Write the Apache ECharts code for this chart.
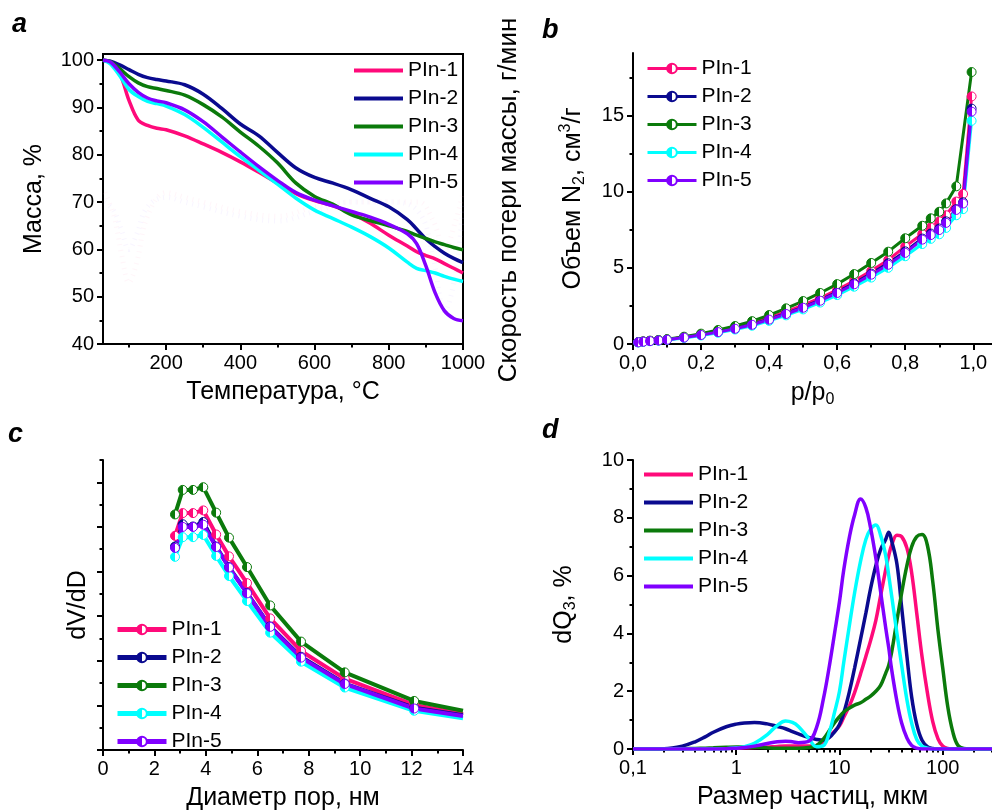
<!DOCTYPE html>
<html><head><meta charset="utf-8">
<script src="https://cdn.jsdelivr.net/npm/echarts@6/dist/echarts.min.js"></script>
<style>html,body{margin:0;padding:0;background:#fff}#c{width:992px;height:812px}</style>
</head><body><div id="c"></div><script>
const FONT = '"Liberation Sans", Arial, Helvetica, sans-serif';
const names = ['PIn-1','PIn-2','PIn-3','PIn-4','PIn-5'];
const colors = ['#FF0A7A','#0A0A8F','#0B7A0B','#00FFFF','#8000FF'];

// ---- Panel a: TGA
const tempA = [30,50,75,100,125,150,175,200,250,300,350,400,450,500,550,600,650,700,750,800,850,875,900,925,950,975,1000];
const massPIn1 = [100,99.4,97.2,91.5,87.3,86.2,85.6,85.3,84.0,82.3,80.5,78.5,76.3,74.0,71.8,70.3,69.2,67.6,65.5,63.0,60.7,59.5,58.7,58.0,57.0,56.0,55.0];
const massPIn2 = [100,99.8,99.0,98.0,97.0,96.3,95.9,95.6,94.8,92.8,89.8,86.5,84.0,80.5,77.2,75.2,74.0,72.6,70.8,69.0,66.3,64.3,62.2,60.6,59.2,58.1,57.2];
const massPIn3 = [100,99.7,98.2,96.5,95.2,94.4,94.0,93.6,92.6,90.6,88.0,84.8,81.8,78.3,74.0,71.2,69.5,67.3,66.1,65.0,63.8,63.0,62.3,61.6,61.0,60.4,59.9];
const massPIn4 = [100,99.2,96.7,93.8,92.3,91.3,90.8,90.3,88.5,85.8,82.7,79.6,76.7,73.8,70.8,68.3,66.5,64.7,62.7,60.3,57.3,56.0,55.5,55.0,54.3,53.7,53.2];
const massPIn5 = [100,99.6,97.5,95.0,93.2,92.0,91.4,91.0,89.5,87.0,83.8,80.6,77.5,74.6,72.0,70.4,69.2,68.0,66.8,65.3,63.3,61.2,56.5,50.8,47.0,45.4,44.9];
// faint DTG traces (right axis, barely visible in the original), read in mass-axis units
const tempDTG = [35,60,80,100,120,150,200,250,300,400,500,600,700,800,880,920,950,980,1000];
const dtgFaint1 = [72,67,59,53,57,67,72,71,70,68,67,69,70,70,70,66,60,66,72];
const dtgFaint2 = [70,68,64,60,63,69,71,70,69,67,66,68,70,70,68,58,47,55,70];

// ---- Panel b: N2 isotherms
const pB = [0.015,0.03,0.05,0.075,0.1,0.15,0.2,0.25,0.3,0.35,0.4,0.45,0.5,0.55,0.6,0.65,0.7,0.75,0.8,0.85,0.875,0.9,0.92,0.95,0.97,0.995];
const volPIn1 = [0.12,0.16,0.21,0.25,0.30,0.45,0.63,0.85,1.08,1.37,1.73,2.12,2.55,3.02,3.55,4.15,4.80,5.52,6.40,7.22,7.65,8.05,8.45,9.35,9.85,16.25];
const volPIn2 = [0.12,0.16,0.20,0.24,0.29,0.43,0.60,0.80,1.02,1.29,1.63,2.00,2.42,2.88,3.40,3.98,4.62,5.30,6.08,6.92,7.25,7.58,8.05,8.85,9.30,15.45];
const volPIn3 = [0.12,0.17,0.22,0.26,0.32,0.48,0.68,0.92,1.18,1.50,1.90,2.34,2.82,3.35,3.93,4.59,5.32,6.06,6.94,7.76,8.25,8.68,9.23,10.35,null,17.85];
const volPIn4 = [0.10,0.14,0.18,0.22,0.27,0.40,0.56,0.74,0.95,1.20,1.52,1.88,2.27,2.72,3.21,3.76,4.36,5.00,5.76,6.56,6.90,7.20,7.62,8.45,8.85,14.65];
const volPIn5 = [0.11,0.15,0.19,0.23,0.28,0.42,0.59,0.78,1.00,1.26,1.60,1.97,2.38,2.84,3.35,3.92,4.55,5.20,5.98,6.85,7.15,7.48,7.95,8.80,9.22,15.25];

// ---- Panel c: pore size distribution
const diamC = [2.8,3.1,3.5,3.9,4.4,4.9,5.6,6.5,7.7,9.4,12.1,14];
const dvPIn1 = [4.80,5.31,5.31,5.37,4.83,4.34,3.74,2.95,2.22,1.60,1.01,0.81];
const dvPIn2 = [4.56,5.06,5.01,5.11,4.56,4.10,3.52,2.77,2.09,1.49,0.95,0.78];
const dvPIn3 = [5.28,5.83,5.83,5.89,5.32,4.76,4.10,3.24,2.43,1.74,1.10,0.88];
const dvPIn4 = [4.33,4.77,4.77,4.82,4.35,3.90,3.34,2.63,1.98,1.40,0.88,0.71];
const dvPIn5 = [4.53,5.00,5.00,5.05,4.55,4.09,3.51,2.76,2.07,1.48,0.93,0.76];

// ---- Panel d: particle size distribution
const sizesD = [0.1,0.2,0.3,0.4,0.5,0.6,0.8,1,1.2,1.5,2,2.5,3,3.5,4,5,6,7,8,9,10,11,12.5,14,16,18,20,22.5,25,28,30,32,36,40,45,50,56,63,71,80,90,100,112,125,140,160,200,300];
const dqPIn1 = [0,0,0,0,0.01,0.01,0.02, 0.03,0.04,0.05,0.07,0.09,0.1,0.1,0.1, 0.1,0.12,0.25,0.45,0.62, 0.8,1.1,1.5,1.95,2.6,3.2,3.75,4.45,5.3,6.2, 6.7,7.05,7.4,7.35,6.95,6.1,4.7,3.2,1.95,0.95, 0.35,0.1,0.02,0,0,0,0,0];
const dqPIn2 = [0,0.01,0.1,0.25,0.42,0.58,0.77, 0.86,0.9,0.92,0.87,0.78,0.7,0.6,0.52, 0.4,0.33,0.3,0.4,0.6, 0.85,1.25,2.0,2.8,3.8,4.7,5.55,6.35,6.9,7.25, 7.5,7.2,6.4,4.9,3.2,1.8,0.85,0.3,0.08,0.02, 0,0,0,0,0,0,0,0];
const dqPIn3 = [0,0,0.01,0.02,0.03,0.04,0.06, 0.07,0.07,0.06,0.04,0.03,0.03,0.03,0.03, 0.05,0.12,0.35,0.65,0.92, 1.12,1.28,1.42,1.52,1.6,1.72,1.83,2.0,2.2,2.62, 2.9,3.35,4.45,5.4,6.35,7.0,7.35,7.42,7.05,5.8, 4.1,2.8,1.45,0.6,0.13,0.02,0,0];
const dqPIn4 = [0,0,0,0,0,0,0.01, 0.04,0.08,0.2,0.5,0.82,0.97,0.92,0.78, 0.38,0.08,0.12,0.6,1.3, 2.0,3.0,4.3,5.4,6.5,7.25,7.6,7.75,7.4,6.7, 6.0,5.3,4.0,2.9,1.7,0.9,0.33,0.1,0.03,0, 0,0,0,0,0,0,0,0];
const dqPIn5 = [0,0,0,0,0,0,0.01, 0.03,0.05,0.1,0.19,0.25,0.27,0.25,0.22, 0.26,0.75,1.75,2.9,4.05, 5.1,6.2,7.35,8.1,8.65,8.35,7.65,6.6,5.45,4.2, 3.5,2.75,1.65,0.9,0.38,0.12,0.03,0,0,0, 0,0,0,0,0,0,0,0];

// ---- tick values
const ticksAx = [200,400,600,800,1000], minorAx = [100,300,500,700,900];
const ticksAy = [40,50,60,70,80,90,100], minorAy = [45,55,65,75,85,95];
const ticksBx = [0,0.2,0.4,0.6,0.8,1.0], minorBx = [0.1,0.3,0.5,0.7,0.9];
const ticksBy = [0,5,10,15], minorBy = [2.5,7.5,12.5,17.5];
const ticksCx = [0,2,4,6,8,10,12,14], minorCx = [1,3,5,7,9,11,13];
const ticksCy = [0,1,2,3,4,5,6], minorCy = [0.5,1.5,2.5,3.5,4.5,5.5,6.5];
const ticksDx = [0.1,1,10,100], minorDx = [0.2,0.3,0.4,0.5,0.6,0.7,0.8,0.9,2,3,4,5,6,7,8,9,20,30,40,50,60,70,80,90,200,300];
const ticksDy = [0,2,4,6,8,10], minorDy = [1,3,5,7,9];

const massA = [massPIn1,massPIn2,massPIn3,massPIn4,massPIn5];
const volB = [volPIn1,volPIn2,volPIn3,volPIn4,volPIn5];
const dvC = [dvPIn1,dvPIn2,dvPIn3,dvPIn4,dvPIn5];
const dqD = [dqPIn1,dqPIn2,dqPIn3,dqPIn4,dqPIn5];

function halfFill(c){
  return new echarts.graphic.LinearGradient(0,0,1,0,[
    {offset:0,color:c},{offset:0.5,color:c},{offset:0.5,color:'#ffffff'},{offset:1,color:'#ffffff'}]);
}
function axisPair(dim, grid, o){
  const base = {gridIndex:grid, type:o.type||'value', min:o.min, max:o.max, splitLine:{show:false},
    position: dim==='x'?'bottom':'left'};
  const major = Object.assign({}, base, {
    axisLine:{show:true,onZero:false,lineStyle:{color:'#000',width:2}},
    axisTick:{show:true,inside:false,length:6,lineStyle:{color:'#000',width:2},customValues:o.major},
    axisLabel:{show:o.showLabels!==false, customValues:o.major, formatter:o.fmt||(v=>String(v)), fontSize:20, color:'#000', fontFamily:FONT, margin:9},
    name:o.name, nameLocation:'middle', nameGap:o.nameGap,
    nameTextStyle:{fontSize:25,color:'#000',fontFamily:FONT, rich:o.rich}
  });
  const minor = Object.assign({}, base, {
    axisLine:{show:false,onZero:false},
    axisTick:{show:true,inside:false,length:3.5,lineStyle:{color:'#000',width:2},customValues:o.minor},
    axisLabel:{show:false}
  });
  return [major, minor];
}
const comma = v => String(v).replace('.', ',');
const subRich = {
  t:{fontSize:25,color:'#000',fontFamily:FONT,lineHeight:30,verticalAlign:'middle'},
  s:{fontSize:16,color:'#000',fontFamily:FONT,verticalAlign:'bottom',lineHeight:18},
  p:{fontSize:16,color:'#000',fontFamily:FONT,verticalAlign:'top',lineHeight:18}
};

const xAxis = [].concat(
  axisPair('x',0,{min:30,max:1000,major:ticksAx,minor:minorAx,name:'Температура, °C',nameGap:36}),
  axisPair('x',1,{min:0,max:1.055,major:ticksBx,minor:minorBx,fmt:v=>v.toFixed(1).replace('.',','),
     name:'{t|p/p}{s|0}',nameGap:34,rich:subRich}),
  axisPair('x',2,{min:0,max:14,major:ticksCx,minor:minorCx,name:'Диаметр пор, нм',nameGap:36}),
  axisPair('x',3,{type:'log',min:0.1,max:300,major:ticksDx,minor:minorDx,fmt:v=>comma(v),
     name:'Размер частиц, мкм',nameGap:36})
);
const yAxis = [].concat(
  axisPair('y',0,{min:40,max:101.3,major:ticksAy,minor:minorAy,name:'Масса, %',nameGap:56}),
  axisPair('y',1,{min:0,max:19.1,major:ticksBy,minor:minorBy,
     name:'{t|Объем N}{s|2}{t|, см}{p|3}{t|/г}',nameGap:45,rich:subRich}),
  axisPair('y',2,{min:0,max:6.5,major:ticksCy,minor:minorCy,showLabels:false,name:'dV/dD',nameGap:12}),
  axisPair('y',3,{min:0,max:10,major:ticksDy,minor:minorDy,name:'{t|dQ}{s|3}{t|, %}',nameGap:54,rich:subRich})
);

const series = [];
[[dtgFaint1,'#ffb0d0'],[dtgFaint2,'#c8b0ff']].forEach((g,i)=>{
  series.push({name:'ДТГ-'+(i+1),type:'line',xAxisIndex:0,yAxisIndex:0,smooth:0.4,showSymbol:false,symbol:'none',silent:true,
    data:tempDTG.map((t,k)=>[t,g[0][k]]),lineStyle:{color:g[1],width:5,type:[1,5],opacity:0.12},z:1});
});
names.forEach((n,i)=>{
  series.push({name:'a|'+n,type:'line',xAxisIndex:0,yAxisIndex:0,smooth:0.35,showSymbol:false,symbol:'none',
    data:tempA.map((t,k)=>[t,massA[i][k]]),lineStyle:{color:colors[i],width:3.5},itemStyle:{color:colors[i]}});
});
names.forEach((n,i)=>{
  series.push({name:'b|'+n,type:'line',xAxisIndex:2,yAxisIndex:2,connectNulls:true,symbol:'circle',symbolSize:9,
    data:pB.map((p,k)=>[p,volB[i][k]]),lineStyle:{color:colors[i],width:3},
    itemStyle:{color:halfFill(colors[i]),borderColor:colors[i],borderWidth:1}});
});
names.forEach((n,i)=>{
  series.push({name:'c|'+n,type:'line',xAxisIndex:4,yAxisIndex:4,symbol:'circle',symbolSize:9,
    data:diamC.map((d,k)=> k===diamC.length-1 ? {value:[d,dvC[i][k]],symbol:'none'} : [d,dvC[i][k]]),
    lineStyle:{color:colors[i],width:4},
    itemStyle:{color:halfFill(colors[i]),borderColor:colors[i],borderWidth:1}});
});
names.forEach((n,i)=>{
  series.push({name:'d|'+n,type:'line',xAxisIndex:6,yAxisIndex:6,smooth:0.4,showSymbol:false,symbol:'none',
    data:sizesD.map((s,k)=>[s,dqD[i][k]]),lineStyle:{color:colors[i],width:3.5},itemStyle:{color:colors[i]}});
});

function legend(prefix,left,top,opts){
  return Object.assign({
    left:left, top:top, orient:'vertical', selectedMode:false,
    data:names.map(n=>prefix+'|'+n), formatter:n=>n.split('|')[1],
    itemWidth:49, itemHeight:12, itemGap:7,
    textStyle:{fontSize:21,color:'#000',fontFamily:FONT}
  }, opts||{});
}

const option = {
  animation:false,
  backgroundColor:'#fff',
  grid:[
    {left:103,top:54,width:360,height:290,show:true,borderColor:'#000',borderWidth:2,backgroundColor:'transparent'},
    {left:633,top:53,width:359,height:291},
    {left:103,top:460,width:360,height:290},
    {left:633,top:460,width:359,height:289}
  ],
  xAxis:xAxis, yAxis:yAxis, series:series,
  legend:[
    legend('a',349,55,{icon:'rect',itemHeight:4}),
    legend('b',641,53,{lineStyle:{width:3}}),
    legend('c',110,614,{lineStyle:{width:5}}),
    legend('d',639,459,{icon:'rect',itemHeight:4})
  ],
  graphic:[
    {type:'text',x:12,y:25,style:{text:'a',font:'italic bold 27px '+FONT,fill:'#000',verticalAlign:'middle'}},
    {type:'text',x:542,y:31,style:{text:'b',font:'italic bold 27px '+FONT,fill:'#000',verticalAlign:'middle'}},
    {type:'text',x:8,y:435,style:{text:'c',font:'italic bold 27px '+FONT,fill:'#000',verticalAlign:'middle'}},
    {type:'text',x:542,y:431,style:{text:'d',font:'italic bold 27px '+FONT,fill:'#000',verticalAlign:'middle'}},
    {type:'text',x:509,y:200,rotation:Math.PI/2,style:{text:'Скорость потери массы, г/мин',font:'26px '+FONT,fill:'#000',align:'center',verticalAlign:'middle'}}
  ]
};
const chart = echarts.init(document.getElementById('c'));
chart.setOption(option);
</script></body></html>
